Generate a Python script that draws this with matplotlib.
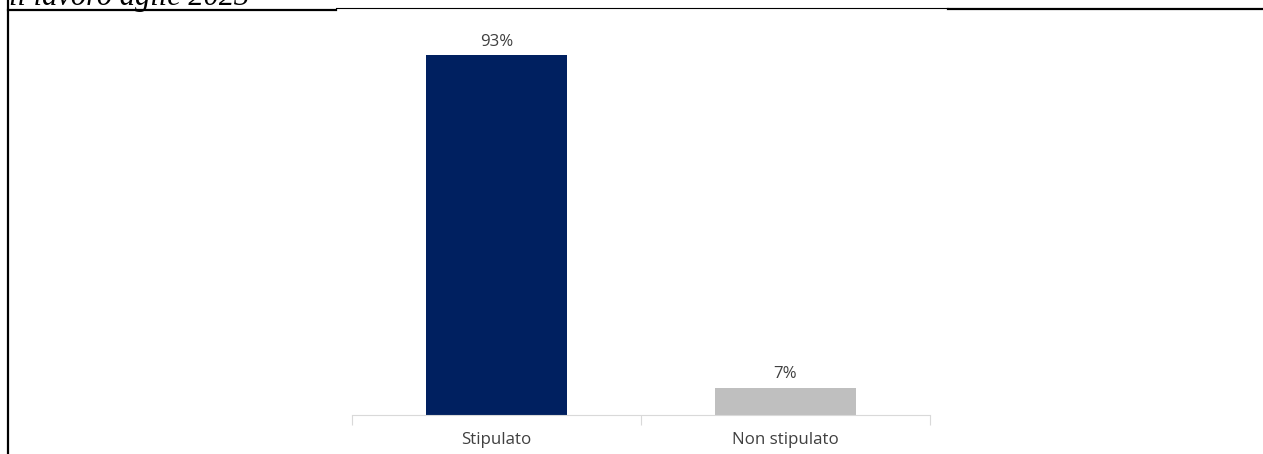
import matplotlib.pyplot as plt
from matplotlib.lines import Line2D

categorie = ["Stipulato", "Non stipulato"]
valori = [93, 7]
colori = ["#002060", "#BFBFBF"]
etichette = ["93%", "7%"]

W, H = 1263, 454
fig = plt.figure(figsize=(W / 100, H / 100), dpi=100)

# asse del grafico (coordinate in pixel convertite in frazioni)
ax = fig.add_axes([352 / W, 39 / H, 578 / W, 387 / H])
x = range(len(categorie))
barre = ax.bar(x, valori, width=0.49, color=colori)
for b, t in zip(barre, etichette):
    ax.annotate(t, (b.get_x() + b.get_width() / 2, b.get_height()),
                xytext=(0, 4), textcoords="offset points",
                ha="center", va="bottom", fontsize=12.2, color="#404040",
                family="Open Sans")

ax.set_xlim(-0.5, 1.5)
ax.set_ylim(0, 100)
for s in ["top", "left", "right"]:
    ax.spines[s].set_visible(False)
ax.spines["bottom"].set_color("#D9D9D9")
ax.set_yticks([])
ax.set_xticks([-0.5, 0.5, 1.5])
ax.set_xticklabels([])
ax.tick_params(axis="x", length=7, color="#D9D9D9", direction="out")
for i, c in enumerate(categorie):
    ax.text(i, -0.045, c, transform=ax.get_xaxis_transform(), ha="center",
            va="top", fontsize=12.2, color="#404040", family="Open Sans")

# cornice della pagina
fig.add_artist(Line2D([8 / W, 8 / W], [0, 1], color="black", lw=1.6))
fig.add_artist(Line2D([8 / W, 336 / W], [1 - 9.5 / H] * 2, color="black", lw=1.6))
fig.add_artist(Line2D([336 / W, 948 / W], [1 - 8.3 / H] * 2, color="black", lw=0.8))
fig.add_artist(Line2D([948 / W, 1], [1 - 9 / H] * 2, color="black", lw=1.6))

# titolo tagliato in alto
fig.text(9 / W, 1 - 4.5 / H, "il lavoro agile 2023", ha="left", va="baseline",
         fontsize=22, style="italic", family="Liberation Serif", color="black")

fig.savefig("out.png", dpi=100)
